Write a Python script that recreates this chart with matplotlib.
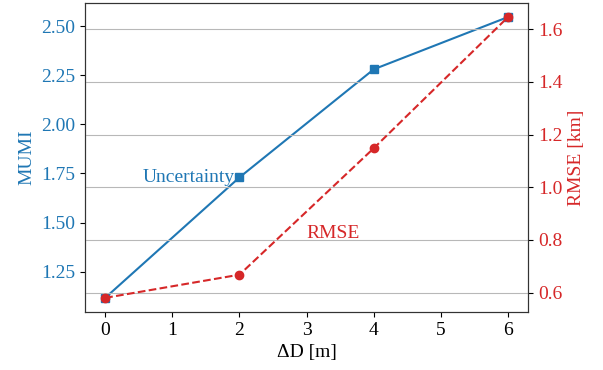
import numpy as np
from matplotlib import pyplot as plt

plt.rcParams['font.family'] = ['Liberation Serif', 'DejaVu Serif']

delta_d = [0, 2, 4, 6]
mumi = [1.117, 1.73, 2.28, 2.546]
rmse = [0.58, 0.668, 1.148, 1.646]

blue = '#1f77b4'
red = '#d62728'
fs = 14

fig, ax = plt.subplots(figsize=(6.03, 3.70), dpi=100)
fig.subplots_adjust(left=0.141, right=0.876, top=0.992, bottom=0.157)

ax.plot(delta_d, mumi, color=blue, marker='s', markersize=6, linewidth=1.5)
ax.set_ylabel('MUMI', color=blue, fontsize=fs)
ax.tick_params(axis='y', labelcolor=blue, labelsize=fs)
ax.tick_params(axis='x', labelsize=fs)
ax.set_xlabel('ΔD [m]', fontsize=fs)
ax.set_yticks([1.25, 1.5, 1.75, 2.0, 2.25, 2.5])
ax.yaxis.set_major_formatter(plt.FormatStrFormatter('%.2f'))
ax.text(1.93, 1.73, 'Uncertainty', color=blue, fontsize=fs, ha='right', va='center')

ax2 = ax.twinx()
ax2.plot(delta_d, rmse, color=red, marker='o', markersize=6, linewidth=1.5, linestyle='--')
ax2.set_ylabel('RMSE [km]', color=red, fontsize=fs)
ax2.tick_params(axis='y', labelcolor=red, labelsize=fs)
ax2.grid(axis='y', color='#b8b8b8', linewidth=0.8)
ax2.text(3.39, 0.824, 'RMSE', color=red, fontsize=fs, ha='center', va='center')

for a in (ax, ax2):
    for s in a.spines.values():
        s.set_color('#333333')

plt.savefig('out.png', dpi=100)
